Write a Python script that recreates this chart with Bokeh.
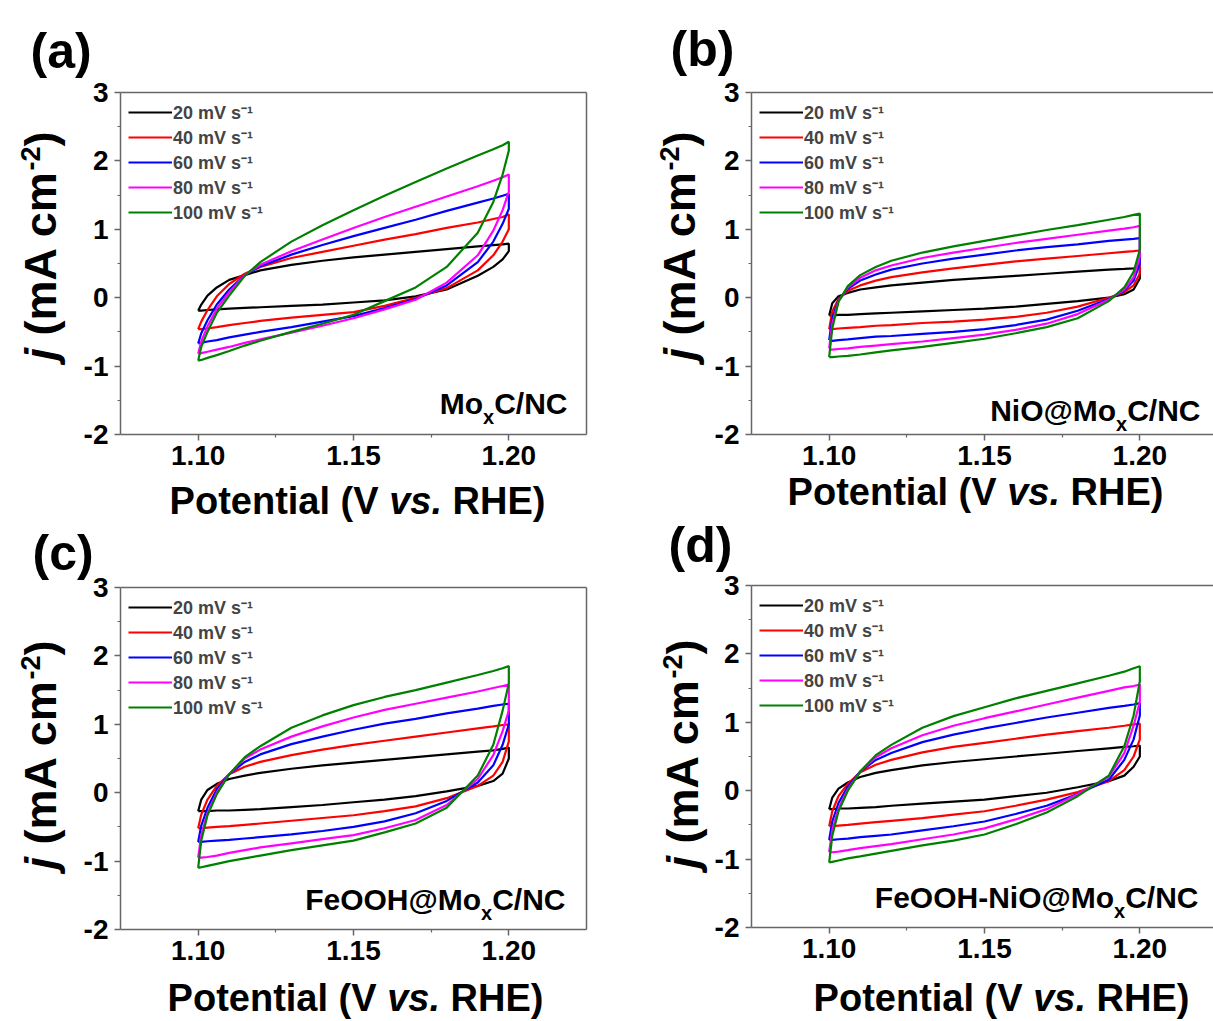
from math import pi
from bokeh.plotting import figure
from bokeh.models import Range1d, FixedTicker, PrintfTickFormatter, Label, LinearAxis
from bokeh.layouts import row, column
from bokeh.embed import file_html
from bokeh.resources import INLINE

# ---------------- data ----------------
POT = [1.100, 1.101, 1.103, 1.106, 1.110, 1.115, 1.120, 1.130, 1.140,
       1.150, 1.160, 1.170, 1.180, 1.190, 1.195, 1.198, 1.200]
RATES = ["20", "40", "60", "80", "100"]
COLORS = ["#000000", "#ff0000", "#0000ff", "#ff00ff", "#008000"]
X_LIM = (1.075, 1.225)
Y_LIM = (-2, 3)
X_TICKS = [1.10, 1.15, 1.20]
X_MINOR = [1.125, 1.175]
Y_TICKS = [-2, -1, 0, 1, 2, 3]
Y_MINOR = [-1.5, -0.5, 0.5, 1.5, 2.5]
SAMPLES = ["MoxC/NC", "NiO@MoxC/NC", "FeOOH@MoxC/NC", "FeOOH-NiO@MoxC/NC"]

# (a) MoxC/NC : forward (anodic) and backward branches on POT grid
A_UP = {
    "20": [-0.19, -0.10, 0.03, 0.15, 0.26, 0.33, 0.40, 0.48, 0.54, 0.59, 0.63, 0.67, 0.71, 0.75, 0.77, 0.78, 0.79],
    "40": [-0.46, -0.35, -0.18, 0.02, 0.20, 0.35, 0.45, 0.58, 0.67, 0.76, 0.85, 0.93, 1.02, 1.10, 1.15, 1.18, 1.22],
    "60": [-0.67, -0.52, -0.33, -0.10, 0.12, 0.33, 0.46, 0.63, 0.77, 0.90, 1.02, 1.14, 1.27, 1.39, 1.45, 1.49, 1.52],
    "80": [-0.82, -0.64, -0.42, -0.16, 0.08, 0.33, 0.48, 0.68, 0.85, 1.02, 1.18, 1.33, 1.48, 1.63, 1.71, 1.76, 1.80],
    "100": [-0.92, -0.72, -0.50, -0.22, 0.03, 0.32, 0.52, 0.82, 1.06, 1.28, 1.49, 1.69, 1.89, 2.08, 2.17, 2.23, 2.28],
}
A_DN = {
    "20": [-0.19, -0.19, -0.18, -0.17, -0.16, -0.15, -0.14, -0.12, -0.10, -0.07, -0.04, 0.02, 0.12, 0.32, 0.45, 0.56, 0.68],
    "40": [-0.46, -0.46, -0.45, -0.43, -0.40, -0.37, -0.34, -0.29, -0.25, -0.21, -0.12, 0.00, 0.14, 0.40, 0.62, 0.82, 1.00],
    "60": [-0.67, -0.66, -0.64, -0.62, -0.58, -0.54, -0.50, -0.43, -0.35, -0.27, -0.15, -0.02, 0.18, 0.52, 0.82, 1.08, 1.30],
    "80": [-0.82, -0.81, -0.79, -0.76, -0.72, -0.66, -0.61, -0.51, -0.41, -0.30, -0.17, -0.03, 0.22, 0.62, 0.98, 1.28, 1.55],
    "100": [-0.92, -0.91, -0.88, -0.84, -0.78, -0.70, -0.63, -0.50, -0.38, -0.25, -0.05, 0.15, 0.45, 0.95, 1.40, 1.80, 2.15],
}
# (b) NiO@MoxC/NC
B_UP = {
    "20": [-0.26, -0.08, 0.02, 0.07, 0.12, 0.15, 0.18, 0.22, 0.26, 0.29, 0.32, 0.35, 0.38, 0.41, 0.42, 0.43, 0.44],
    "40": [-0.46, -0.20, -0.02, 0.10, 0.18, 0.25, 0.30, 0.37, 0.43, 0.48, 0.53, 0.57, 0.61, 0.65, 0.67, 0.68, 0.69],
    "60": [-0.62, -0.30, -0.04, 0.13, 0.25, 0.34, 0.41, 0.50, 0.57, 0.63, 0.69, 0.74, 0.78, 0.83, 0.85, 0.86, 0.87],
    "80": [-0.74, -0.38, -0.05, 0.15, 0.29, 0.40, 0.47, 0.58, 0.66, 0.73, 0.80, 0.86, 0.92, 0.98, 1.01, 1.03, 1.05],
    "100": [-0.87, -0.45, -0.06, 0.17, 0.33, 0.45, 0.54, 0.66, 0.75, 0.83, 0.91, 0.99, 1.06, 1.14, 1.18, 1.21, 1.23],
}
B_DN = {
    "20": [-0.26, -0.26, -0.25, -0.25, -0.24, -0.23, -0.22, -0.20, -0.18, -0.16, -0.13, -0.09, -0.05, 0.00, 0.05, 0.12, 0.28],
    "40": [-0.46, -0.46, -0.45, -0.44, -0.43, -0.41, -0.40, -0.37, -0.35, -0.32, -0.28, -0.22, -0.13, 0.00, 0.08, 0.18, 0.35],
    "60": [-0.63, -0.63, -0.62, -0.61, -0.59, -0.57, -0.56, -0.53, -0.50, -0.46, -0.40, -0.32, -0.19, -0.02, 0.10, 0.25, 0.50],
    "80": [-0.76, -0.76, -0.75, -0.74, -0.72, -0.70, -0.68, -0.64, -0.59, -0.54, -0.47, -0.38, -0.24, -0.03, 0.12, 0.30, 0.60],
    "100": [-0.87, -0.87, -0.86, -0.85, -0.83, -0.80, -0.77, -0.72, -0.66, -0.60, -0.52, -0.43, -0.30, -0.05, 0.15, 0.38, 0.70],
}
# (c) FeOOH@MoxC/NC
C_UP = {
    "20": [-0.27, -0.10, 0.04, 0.13, 0.20, 0.25, 0.29, 0.35, 0.40, 0.44, 0.48, 0.52, 0.56, 0.60, 0.62, 0.64, 0.66],
    "40": [-0.52, -0.32, -0.10, 0.10, 0.27, 0.38, 0.45, 0.55, 0.63, 0.70, 0.76, 0.82, 0.88, 0.94, 0.97, 0.99, 1.00],
    "60": [-0.72, -0.48, -0.22, 0.05, 0.27, 0.45, 0.56, 0.71, 0.82, 0.92, 1.01, 1.08, 1.16, 1.23, 1.27, 1.29, 1.30],
    "80": [-0.95, -0.62, -0.30, 0.00, 0.27, 0.50, 0.63, 0.82, 0.97, 1.10, 1.21, 1.30, 1.39, 1.48, 1.53, 1.56, 1.58],
    "100": [-1.10, -0.70, -0.33, -0.02, 0.27, 0.52, 0.68, 0.95, 1.13, 1.28, 1.40, 1.50, 1.61, 1.72, 1.78, 1.82, 1.85],
}
C_DN = {
    "20": [-0.27, -0.27, -0.27, -0.26, -0.26, -0.25, -0.24, -0.21, -0.18, -0.14, -0.10, -0.05, 0.02, 0.10, 0.17, 0.28, 0.50],
    "40": [-0.52, -0.52, -0.51, -0.50, -0.49, -0.47, -0.45, -0.41, -0.37, -0.33, -0.27, -0.20, -0.08, 0.10, 0.25, 0.45, 0.75],
    "60": [-0.72, -0.72, -0.71, -0.70, -0.69, -0.67, -0.65, -0.61, -0.56, -0.50, -0.42, -0.30, -0.12, 0.15, 0.40, 0.70, 1.00],
    "80": [-0.95, -0.95, -0.94, -0.92, -0.88, -0.84, -0.80, -0.74, -0.68, -0.62, -0.52, -0.40, -0.18, 0.20, 0.55, 0.90, 1.20],
    "100": [-1.10, -1.09, -1.07, -1.04, -1.00, -0.96, -0.92, -0.84, -0.77, -0.70, -0.58, -0.45, -0.22, 0.25, 0.70, 1.20, 1.60],
}
# (d) FeOOH-NiO@MoxC/NC
D_UP = {
    "20": [-0.27, -0.10, 0.03, 0.12, 0.20, 0.26, 0.30, 0.37, 0.42, 0.46, 0.50, 0.54, 0.58, 0.62, 0.64, 0.65, 0.66],
    "40": [-0.52, -0.30, -0.08, 0.10, 0.27, 0.38, 0.45, 0.56, 0.64, 0.70, 0.76, 0.82, 0.87, 0.92, 0.95, 0.97, 0.98],
    "60": [-0.72, -0.45, -0.18, 0.06, 0.28, 0.45, 0.55, 0.71, 0.82, 0.91, 0.99, 1.07, 1.14, 1.21, 1.24, 1.26, 1.28],
    "80": [-0.90, -0.58, -0.26, 0.02, 0.28, 0.49, 0.62, 0.81, 0.95, 1.06, 1.16, 1.26, 1.36, 1.46, 1.51, 1.53, 1.55],
    "100": [-1.05, -0.66, -0.30, 0.00, 0.28, 0.52, 0.67, 0.92, 1.09, 1.22, 1.35, 1.46, 1.57, 1.68, 1.74, 1.79, 1.82],
}
D_DN = {
    "20": [-0.27, -0.27, -0.26, -0.26, -0.25, -0.24, -0.22, -0.19, -0.16, -0.13, -0.08, -0.03, 0.05, 0.14, 0.22, 0.35, 0.50],
    "40": [-0.52, -0.52, -0.51, -0.50, -0.48, -0.46, -0.44, -0.40, -0.35, -0.30, -0.22, -0.13, -0.02, 0.14, 0.30, 0.50, 0.75],
    "60": [-0.72, -0.72, -0.71, -0.70, -0.68, -0.66, -0.64, -0.58, -0.52, -0.45, -0.34, -0.22, -0.05, 0.16, 0.45, 0.75, 1.10],
    "80": [-0.90, -0.90, -0.89, -0.87, -0.84, -0.81, -0.78, -0.71, -0.64, -0.55, -0.42, -0.27, -0.05, 0.20, 0.55, 0.95, 1.30],
    "100": [-1.05, -1.04, -1.02, -0.99, -0.96, -0.92, -0.88, -0.80, -0.73, -0.64, -0.49, -0.32, -0.08, 0.22, 0.65, 1.10, 1.60],
}

# ---------------- styling / geometry (page pixel coordinates) ----------------
FONT = "Liberation Sans"
AXC = "#666666"
ADV = {' ': 278, '(': 333, ')': 333, '-': 333, '.': 278, '/': 278, '@': 975,
       'A': 722, 'C': 722, 'E': 667, 'F': 611, 'H': 722, 'M': 833, 'N': 722, 'O': 778,
       'P': 667, 'R': 722, 'V': 667, 'a': 556, 'c': 556, 'e': 556, 'i': 278, 'j': 278,
       'l': 278, 'm': 889, 'n': 611, 'o': 611, 's': 556, 't': 333, 'v': 556, 'x': 556}
for d in "0123456789":
    ADV[d] = 556


def tw(s, size):
    return sum(ADV.get(ch, 556) for ch in s) / 1000.0 * size


# fx,fy,fw,fh: figure box on page; fl,ft,fr,fb: data box (X_LIM x Y_LIM) on page
# text positions: let=(left x, centre y), ylab=(centre x, bottom y),
# xlab=(centre x, centre y), ann=(right x, centre y)
GEOM = [
    dict(letter="(a)", fx=0, fy=0, fw=600, fh=523, fl=120, ft=92, fr=586, fb=434, full=True,
         let_xy=(30, 50), ylab=(40, 360), xlab=(357, 500), ann=(567, 403)),
    dict(letter="(b)", fx=600, fy=0, fw=613, fh=514, fl=751, ft=92, fr=1217, fb=434, full=False,
         let_xy=(670, 48), ylab=(679, 360), xlab=(975, 491), ann=(1200, 410)),
    dict(letter="(c)", fx=0, fy=523, fw=600, fh=498, fl=120, ft=587, fr=586, fb=929, full=True,
         let_xy=(32, 552), ylab=(40, 869), xlab=(355, 997), ann=(565, 899)),
    dict(letter="(d)", fx=600, fy=514, fw=613, fh=507, fl=751, ft=585, fr=1217, fb=927, full=False,
         let_xy=(668, 544), ylab=(682, 868), xlab=(1001, 997), ann=(1198, 897)),
]
DATA = [(A_UP, A_DN), (B_UP, B_DN), (C_UP, C_DN), (D_UP, D_DN)]


def plain_axis(**kw):
    return LinearAxis(axis_line_color=AXC, axis_line_width=1.5, ticker=FixedTicker(ticks=[]),
                      major_tick_line_color=None, minor_tick_line_color=None,
                      major_label_text_font_size="0px", major_label_text_color=None, **kw)


def make_panel(g, up, dn, sample):
    X0, X1 = X_LIM
    Y0, Y1 = Y_LIM
    sx = (g["fr"] - g["fl"]) / (X1 - X0)
    sy = (g["fb"] - g["ft"]) / (Y1 - Y0)
    xs0 = X0 - (g["fl"] - g["fx"]) / sx
    xs1 = X0 + (g["fx"] + g["fw"] - g["fl"]) / sx
    ys0 = Y0 - (g["fy"] + g["fh"] - g["fb"]) / sy
    ys1 = Y1 + (g["ft"] - g["fy"]) / sy
    p = figure(width=g["fw"], height=g["fh"], output_backend="svg", toolbar_location=None,
               x_range=Range1d(xs0, xs1), y_range=Range1d(ys0, ys1), min_border=0,
               background_fill_color="white", border_fill_color="white")
    p.grid.visible = False
    p.outline_line_color = None

    xa = p.below[0]
    ya = p.left[0]
    xa.fixed_location = Y0
    xa.bounds = (X0, X1)
    ya.fixed_location = X0
    ya.bounds = (Y0, Y1)
    for ax in (xa, ya):
        ax.axis_line_color = AXC
        ax.axis_line_width = 1.5
        ax.major_tick_line_color = AXC
        ax.minor_tick_line_color = AXC
        ax.major_tick_line_width = 1.5
        ax.minor_tick_line_width = 1.2
        ax.major_tick_in = 0
        ax.major_tick_out = 6
        ax.minor_tick_in = 0
        ax.minor_tick_out = 3
        ax.major_label_text_font = FONT
        ax.major_label_text_font_size = "28px"
        ax.major_label_text_font_style = "bold"
        ax.major_label_text_color = "black"
    xa.ticker = FixedTicker(ticks=X_TICKS, minor_ticks=X_MINOR)
    ya.ticker = FixedTicker(ticks=Y_TICKS, minor_ticks=Y_MINOR)
    xa.formatter = PrintfTickFormatter(format="%.2f")
    ya.formatter = PrintfTickFormatter(format="%d")
    xa.major_label_standoff = 5
    ya.major_label_standoff = 6

    p.add_layout(plain_axis(fixed_location=Y1, bounds=(X0, X1)), "above")
    if g["full"]:
        p.add_layout(plain_axis(fixed_location=X1, bounds=(Y0, Y1)), "right")

    for r, c in zip(RATES, COLORS):
        xs = POT + POT[::-1]
        ys = up[r] + dn[r][::-1]
        p.line(xs, ys, line_color=c, line_width=2.2, legend_label=f"{r} mV s\u207b\u00b9")

    # legend: first row centred 20 px below the top of the data box, rows 25 px apart
    item_h, gap, n = 24, 1, len(RATES)
    leg_h = n * item_h + (n - 1) * gap
    leg_top = g["ft"] + 20 - item_h / 2
    lg = p.legend[0]
    lg.location = (g["fl"] - g["fx"] + 8, (g["fy"] + g["fh"]) - (leg_top + leg_h))
    lg.margin = 0
    lg.padding = 0
    lg.border_line_color = None
    lg.background_fill_alpha = 0
    lg.label_text_font = FONT
    lg.label_text_font_size = "18px"
    lg.label_text_font_style = "bold"
    lg.glyph_width = 44
    lg.glyph_height = item_h
    lg.label_height = item_h
    lg.label_standoff = 1
    lg.spacing = gap

    def txt(text, px, py, size, style="bold", angle=0.0, align="left"):
        p.add_layout(Label(x=X0, y=Y0, x_units="data", y_units="data",
                           x_offset=px - g["fl"], y_offset=g["fb"] - py,
                           text=text, text_font=FONT, text_font_size=f"{size}px",
                           text_font_style=style, text_color="black", angle=angle,
                           text_align=align, text_baseline="middle"))

    # panel letter
    txt(g["letter"], g["let_xy"][0], g["let_xy"][1], 50)

    # y axis title: j (mA cm-2), rotated, built from bottom to top
    cxl, by = g["ylab"]
    fs, fsup = 45, 27
    y = by
    txt("j", cxl, y, fs, "bold italic", pi / 2)
    y -= tw("j ", fs)
    txt("(mA cm", cxl, y, fs, "bold", pi / 2)
    y -= tw("(mA cm", fs)
    txt("-2", cxl - 10, y, fsup, "bold", pi / 2)
    y -= tw("-2", fsup)
    txt(")", cxl, y, fs, "bold", pi / 2)

    # x axis title: Potential (V vs. RHE)  (spaces handled by positioning)
    cx, cy = g["xlab"]
    fs = 38
    full_text = "Potential (V vs. RHE)"
    x0 = cx - tw(full_text, fs) / 2
    txt("Potential (V", x0, cy, fs, "bold")
    txt("vs.", x0 + tw("Potential (V ", fs), cy, fs, "bold italic")
    txt("RHE)", x0 + tw("Potential (V vs. ", fs), cy, fs, "bold")

    # sample annotation with subscript x, right aligned
    rx, cy = g["ann"]
    pre, post = sample.split("x", 1)
    fs, fsub = 30, 20
    txt(post, rx, cy, fs, "bold", 0.0, "right")
    rx2 = rx - tw(post, fs)
    txt("x", rx2, cy + 13, fsub, "bold", 0.0, "right")
    rx3 = rx2 - tw("x", fsub)
    txt(pre, rx3, cy, fs, "bold", 0.0, "right")
    return p


panels = [make_panel(g, u, d, s) for g, (u, d), s in zip(GEOM, DATA, SAMPLES)]
layout = row(column(panels[0], panels[2]), column(panels[1], panels[3]))

with open("out.html", "w") as f:
    f.write(file_html(layout, INLINE))
